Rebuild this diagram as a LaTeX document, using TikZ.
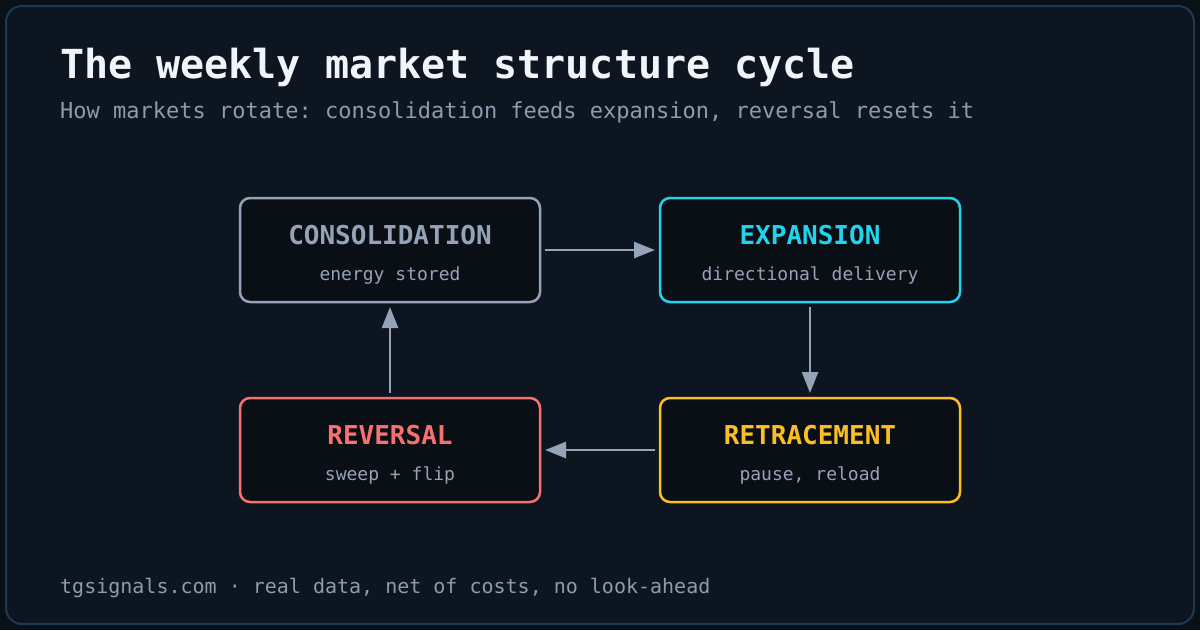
\documentclass[tikz,border=0pt]{standalone}
\usepackage{fontspec}
\setmonofont{DejaVu Sans Mono}
\usetikzlibrary{arrows.meta,calc,positioning}
\definecolor{pagebg}{HTML}{0A1018}
\definecolor{panelbg}{HTML}{0D1620}
\definecolor{framecol}{HTML}{1E3A52}
\definecolor{boxbg}{HTML}{0A0E15}
\definecolor{titlecol}{HTML}{F1F5F9}
\definecolor{muted}{HTML}{8C9BB0}
\definecolor{consgray}{HTML}{94A3B8}
\definecolor{expcyan}{HTML}{22D3EE}
\definecolor{retamber}{HTML}{FBBF24}
\definecolor{revred}{HTML}{F87171}
\tikzset{
  stage/.style     = {draw=#1, line width=2.5pt, fill=boxbg, rounded corners=10pt,
                      minimum width=300pt, minimum height=104pt, inner sep=0pt, outer sep=0pt},
  stagename/.style = {anchor=base, text=#1, font=\ttfamily\bfseries\fontsize{26}{30}\selectfont},
  tagline/.style   = {anchor=base, text=consgray, font=\ttfamily\fontsize{18}{22}\selectfont},
  flow/.style      = {-{Triangle[length=21pt,width=16pt]}, line width=2.5pt, draw=consgray,
                      shorten <=5pt, shorten >=5pt},
}

\begin{document}
\begin{tikzpicture}[x=1pt,y=-1pt]
  \useasboundingbox (0,0) rectangle (1200,630);
  \fill[pagebg] (0,0) rectangle (1200,630);
  \draw[framecol, fill=panelbg, line width=2pt, rounded corners=16pt] (6,6) rectangle (1194,624);
  % heading
  \node[anchor=base west, inner sep=0pt, text=titlecol,
        font=\ttfamily\bfseries\fontsize{40}{48}\selectfont] (title) at (60,78)
        {The weekly market structure cycle};
  \node[anchor=base west, inner sep=0pt, text=muted,
        font=\ttfamily\fontsize{22}{26}\selectfont] (subtitle) at (60,118)
        {How markets rotate: consolidation feeds expansion, reversal resets it};
  % the four stages
  \node[stage=consgray] (cons) at (390,250) {};
  \node[stage=expcyan]  (expn) at (810,250) {};
  \node[stage=retamber] (retr) at (810,450) {};
  \node[stage=revred]   (revs) at (390,450) {};
  \node[stagename=consgray] (cons-name) at ($(cons)+(0,-6)$) {CONSOLIDATION};
  \node[tagline]            (cons-tag)  at ($(cons)+(0,30)$) {energy stored};
  \node[stagename=expcyan]  (expn-name) at ($(expn)+(0,-6)$) {EXPANSION};
  \node[tagline]            (expn-tag)  at ($(expn)+(0,30)$) {directional delivery};
  \node[stagename=retamber] (retr-name) at ($(retr)+(0,-6)$) {RETRACEMENT};
  \node[tagline]            (retr-tag)  at ($(retr)+(0,30)$) {pause, reload};
  \node[stagename=revred]   (revs-name) at ($(revs)+(0,-6)$) {REVERSAL};
  \node[tagline]            (revs-tag)  at ($(revs)+(0,30)$) {sweep + flip};
  % cycle
  \draw[flow] (cons) -- (expn);
  \draw[flow] (expn) -- (retr);
  \draw[flow] (retr) -- (revs);
  \draw[flow] (revs) -- (cons);
  % footer
  \node[anchor=base west, inner sep=0pt, text=muted,
        font=\ttfamily\fontsize{20}{24}\selectfont] (footer) at (60,593)
        {tgsignals.com · real data, net of costs, no look-ahead};
\end{tikzpicture}
\end{document}
